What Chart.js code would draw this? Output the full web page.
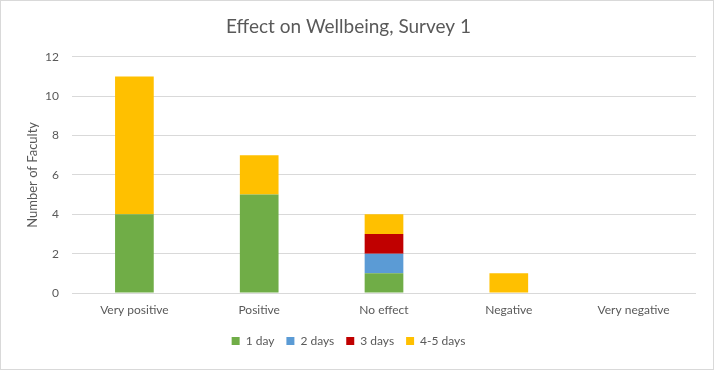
<!DOCTYPE html>
<html>
<head>
<meta charset="utf-8">
<script src="https://cdn.jsdelivr.net/npm/chart.js@4.4.0/dist/chart.umd.min.js"></script>
<style>
  body { margin: 0; background: #fff; }
  #wrap { width: 714px; height: 370px; box-sizing: border-box; border: 1px solid #d9d9d9; background: #fff; }
</style>
</head>
<body>
<div id="wrap"><canvas id="myChart" width="712" height="368"></canvas></div>
<script>
var categories = ['Very positive', 'Positive', 'No effect', 'Negative', 'Very negative'];
var oneDay = [4, 5, 1, 0, 0];
var twoDays = [0, 0, 1, 0, 0];
var threeDays = [0, 0, 1, 0, 0];
var fourFiveDays = [7, 2, 1, 1, 0];
var seriesNames = ['1 day', '2 days', '3 days', '4-5 days'];
var yTicks = [0, 2, 4, 6, 8, 10, 12];

var textColor = '#595959';
var gridColor = '#d9d9d9';
var fontName = 'Lato, Calibri, Carlito, "Open Sans", sans-serif';

function makeSet(label, data, color) {
  return {
    label: label,
    data: data,
    backgroundColor: color,
    borderColor: color,
    borderWidth: 0,
    categoryPercentage: 1,
    barPercentage: 0.31
  };
}

var ctx = document.getElementById('myChart').getContext('2d');
var chart = new Chart(ctx, {
  type: 'bar',
  data: {
    labels: categories,
    datasets: [
      makeSet(seriesNames[0], oneDay, '#70ad47'),
      makeSet(seriesNames[1], twoDays, '#5b9bd5'),
      makeSet(seriesNames[2], threeDays, '#c00000'),
      makeSet(seriesNames[3], fourFiveDays, '#ffc000')
    ]
  },
  options: {
    responsive: false,
    animation: false,
    layout: { padding: { left: 0, right: 17, top: 0, bottom: 12 } },
    plugins: {
      title: {
        display: true,
        text: 'Effect on Wellbeing, Survey 1',
        color: textColor,
        font: { family: fontName, size: 19, weight: 'normal' },
        padding: { top: 14, bottom: 19 }
      },
      legend: {
        position: 'bottom',
        labels: {
          color: textColor,
          font: { family: fontName, size: 12 },
          boxWidth: 8,
          boxHeight: 8,
          padding: 12
        }
      },
      tooltip: { enabled: false }
    },
    scales: {
      x: {
        stacked: true,
        grid: { display: false, drawTicks: false },
        border: { display: false },
        ticks: { color: textColor, font: { family: fontName, size: 12 }, padding: 10, maxRotation: 0 },
        afterFit: function(s) { s.height = 30; }
      },
      y: {
        stacked: true,
        min: 0,
        max: 12,
        afterBuildTicks: function(s) { s.ticks = yTicks.map(function(v) { return { value: v }; }); },
        grid: { color: gridColor, lineWidth: 1, drawTicks: false },
        border: { display: false },
        ticks: { color: textColor, font: { family: fontName, size: 12 }, padding: 13 },
        title: {
          display: true,
          text: 'Number of Faculty',
          color: textColor,
          font: { family: fontName, size: 13 },
          padding: { top: 24, bottom: 0 }
        },
        afterFit: function(s) { s.width = 71; }
      }
    }
  }
});
</script>
</body>
</html>
